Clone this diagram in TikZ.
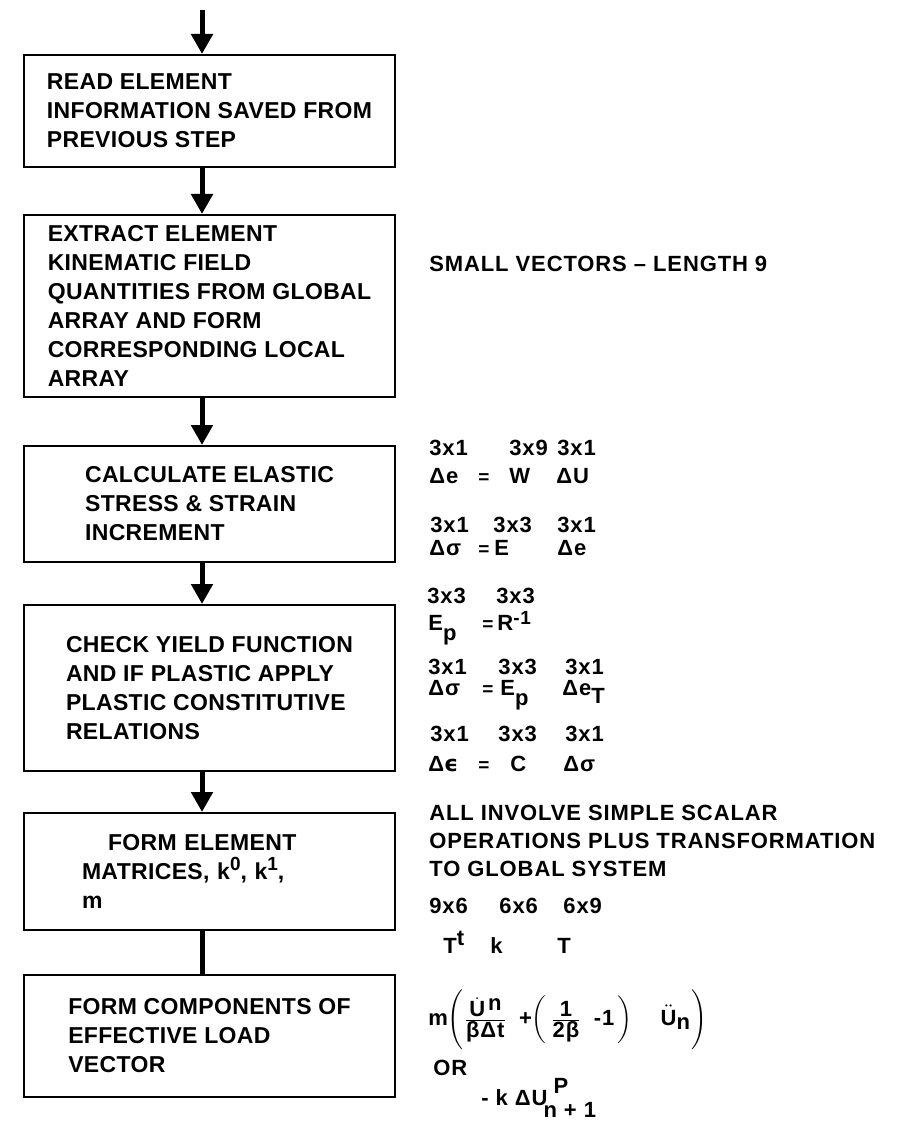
\documentclass[tikz,border=0pt]{standalone}
\usepackage{fontspec}
\setmainfont{Liberation Sans}[LetterSpace=1.5]
\newfontfamily\notefont{Liberation Sans}[LetterSpace=4]
\newfontfamily\lunate{DejaVu Sans}
\usetikzlibrary{arrows.meta}

\newcommand\cell[2]{\makebox[#1][l]{#2}}
\newcommand\tx[1]{\mbox{#1}}
\newcommand\up[1]{\raisebox{4.5pt}{\fontsize{9.5}{10}\selectfont #1}}
\newcommand\eq{{\fontsize{9.5}{10}\selectfont =}}

\begin{document}
\begin{tikzpicture}[x=0.5pt,y=-0.5pt,
  stepbox/.style={draw, line width=1pt, minimum width=185.5pt, align=left,
    inner ysep=2pt, font=\fontsize{11.5}{14.5}\selectfont\bfseries},
  flow/.style={line width=2.5pt, -{Triangle[length=10pt,width=10.5pt]}},
  link/.style={line width=2.5pt},
  note/.style={anchor=base west, inner sep=0pt, font=\notefont\fontsize{11}{14}\selectfont\bfseries}]
  \path[use as bounding box] (0,0) rectangle (906,1122);
  \fill[white] (0,0) rectangle (906,1122);

  % steps
  \node[stepbox, minimum height=56pt] (read) at (209.5,111)
    {READ ELEMENT\\INFORMATION SAVED FROM\\PREVIOUS STEP};
  \node[stepbox, minimum height=91pt] (extract) at (209.5,306)
    {EXTRACT ELEMENT\\KINEMATIC FIELD\\QUANTITIES FROM GLOBAL\\ARRAY AND FORM\\CORRESPONDING LOCAL\\ARRAY};
  \node[stepbox, minimum height=58pt] (elastic) at (209.5,504)
    {CALCULATE ELASTIC\\STRESS \& STRAIN\\INCREMENT};
  \node[stepbox, minimum height=83pt] (yield) at (209.5,688)
    {CHECK YIELD FUNCTION\\AND IF PLASTIC APPLY\\PLASTIC CONSTITUTIVE\\RELATIONS};
  \node[stepbox, minimum height=58.5pt, text width=127.5pt] (matrices) at (209.5,871.5)
    {\hspace*{13pt}FORM ELEMENT\\MATRICES, k\up{0}, k\up{1},\\m};
  \node[stepbox, minimum height=61pt] (load) at (209.5,1036)
    {FORM COMPONENTS OF\\EFFECTIVE LOAD\\VECTOR};

  % flow line
  \coordinate (spine) at (202,10);
  \draw[flow] (spine) -- (read.north -| spine);
  \draw[flow] (read.south -| spine) -- (extract.north -| spine);
  \draw[flow] (extract.south -| spine) -- (elastic.north -| spine);
  \draw[flow] (elastic.south -| spine) -- (yield.north -| spine);
  \draw[flow] (yield.south -| spine) -- (matrices.north -| spine);
  \draw[link] (matrices.south -| spine) -- (load.north -| spine);

  % kinematic field
  \node[note] (small) at (429,272) {SMALL VECTORS – LENGTH 9};

  % elastic increment
  \node[note] (dimA) at (429,455) {\cell{40pt}{3x1}\cell{24pt}{3x9}3x1};
  \node[note] (eqA) at (429,483) {\cell{24.5pt}{Δe}\cell{15.5pt}{\eq}\cell{23.5pt}{W}ΔU};
  \node[note] (dimB) at (430,532) {\cell{31.5pt}{3x1}\cell{32pt}{3x3}3x1};
  \node[note] (eqB) at (429,555) {\cell{24.5pt}{Δσ}\cell{8pt}{\eq}\cell{31.5pt}{E}Δe};

  % plastic relations
  \node[note] (dimC) at (427,603) {\cell{34.5pt}{3x3}3x3};
  \node[note] (eqC) at (428,630) {\cell{27pt}{E\raisebox{-5pt}{p}}\cell{7.5pt}{\eq}R\raisebox{3pt}{\fontsize{9.5}{10}\selectfont -1}};
  \node[note] (dimD) at (428,674) {\cell{35pt}{3x1}\cell{33.5pt}{3x3}3x1};
  \node[note] (eqD) at (428,695) {\cell{27pt}{Δσ}\cell{9pt}{\eq}\cell{31pt}{E\raisebox{-5pt}{p}}Δe\raisebox{-4pt}{T}};
  \node[note] (dimE) at (430,741) {\cell{34pt}{3x1}\cell{33.5pt}{3x3}3x1};
  \node[note] (eqE) at (428,771) {\cell{25pt}{Δ{\lunate ϵ}}\cell{16pt}{\eq}\cell{26.5pt}{C}Δσ};

  % element matrices
  \node[note, anchor=west, align=left] (scalar) at (429,841)
    {ALL INVOLVE SIMPLE SCALAR\\OPERATIONS PLUS TRANSFORMATION\\TO GLOBAL SYSTEM};
  \node[note] (dimF) at (429,913) {\cell{35pt}{9x6}\cell{32pt}{6x6}6x9};
  \node[note] (transf) at (443,953) {\cell{23.5pt}{T\raisebox{4pt}{t}}\cell{33.5pt}{k}T};

  % effective load
  \node[note, anchor=west] (inertia) at (428,1020)
    {$\tx{m}\Biggl(\frac{\dot{\tx{U}}\,\tx{\raisebox{3pt}{n}}}{\tx{βΔt}}\;\;\tx{+}\biggl(\,\frac{\tx{1}}{\tx{2β}}\;\;\tx{-1}\,\biggr)\quad\;\ddot{\tx{U}}_{\tx{n}}\Biggr)$};
  \node[note] (alt) at (433,1075) {OR};
  \node[note] (stiff) at (481,1105)
    {- k ΔU\raisebox{6pt}{\rlap{\hspace{3pt}P}}\raisebox{-6pt}{\hspace{-2pt}n + 1}};
\end{tikzpicture}
\end{document}
